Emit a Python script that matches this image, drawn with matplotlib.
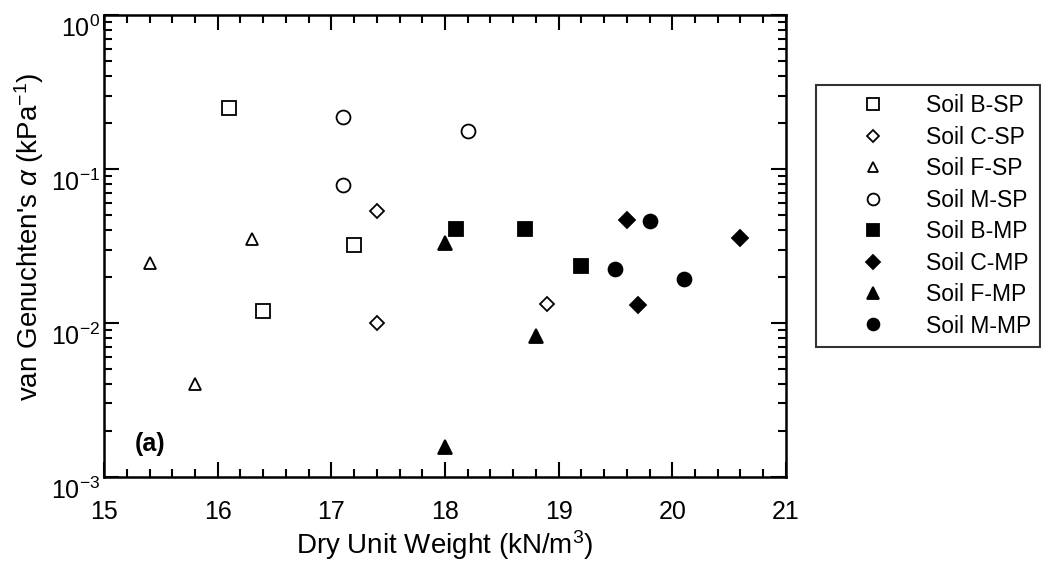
import matplotlib
matplotlib.use("Agg")
import matplotlib.pyplot as plt
import matplotlib.transforms as mtransforms
from matplotlib.ticker import MultipleLocator, LogLocator, NullFormatter

plt.rcParams["font.family"] = ["Liberation Sans", "DejaVu Sans"]
plt.rcParams["mathtext.fontset"] = "custom"
plt.rcParams["mathtext.rm"] = "Liberation Sans"
plt.rcParams["mathtext.it"] = "Liberation Sans:italic"

# dry unit weight (kN/m3) and van Genuchten alpha (1/kPa)
b_sp_x = [16.1, 17.2, 16.4]
b_sp_y = [0.25, 0.032, 0.012]
c_sp_x = [17.4, 17.4, 18.9]
c_sp_y = [0.053, 0.010, 0.0133]
f_sp_x = [15.4, 16.3, 15.8]
f_sp_y = [0.0245, 0.035, 0.0040]
m_sp_x = [17.1, 17.1, 18.2]
m_sp_y = [0.218, 0.079, 0.177]
b_mp_x = [18.1, 18.7, 19.2]
b_mp_y = [0.041, 0.041, 0.0235]
c_mp_x = [19.6, 20.6, 19.7]
c_mp_y = [0.047, 0.0356, 0.0131]
f_mp_x = [18.0, 18.8, 18.0]
f_mp_y = [0.033, 0.0082, 0.00157]
m_mp_x = [19.8, 19.5, 20.1]
m_mp_y = [0.046, 0.0224, 0.0193]

series = [
    ("Soil B-SP", b_sp_x, b_sp_y, "s", 10, False),
    ("Soil C-SP", c_sp_x, c_sp_y, "D", 7, False),
    ("Soil F-SP", f_sp_x, f_sp_y, "^", 9, False),
    ("Soil M-SP", m_sp_x, m_sp_y, "o", 10, False),
    ("Soil B-MP", b_mp_x, b_mp_y, "s", 10, True),
    ("Soil C-MP", c_mp_x, c_mp_y, "D", 8, True),
    ("Soil F-MP", f_mp_x, f_mp_y, "^", 10, True),
    ("Soil M-MP", m_mp_x, m_mp_y, "o", 10, True),
]

fig = plt.figure(figsize=(10.41, 5.61), dpi=100)
ax = fig.add_axes([0.1, 0.15, 0.655, 0.823])

for label, xs, ys, mk, ms, filled in series:
    ax.plot(xs, ys, linestyle="none", marker=mk, markersize=ms,
            markerfacecolor="black" if filled else "white",
            markeredgecolor="black", markeredgewidth=1.3, label=label)

ax.set_yscale("log")
ax.set_xlim(15, 21)
ax.set_ylim(1e-3, 1)
ax.xaxis.set_major_locator(MultipleLocator(1))
ax.xaxis.set_minor_locator(MultipleLocator(0.2))
ax.yaxis.set_major_locator(LogLocator(base=10))
ax.yaxis.set_minor_locator(LogLocator(base=10, subs=range(2, 10)))
ax.yaxis.set_minor_formatter(NullFormatter())

ax.tick_params(which="both", direction="in", top=True, right=True, width=1.5, labelsize=18, colors="black")
ax.tick_params(which="major", length=10.5)
ax.tick_params(which="minor", length=5.5)
ax.tick_params(axis="x", which="major", pad=17)
ax.tick_params(axis="y", which="major", pad=3)
for s in ax.spines.values():
    s.set_linewidth(1.8)

# y tick labels sit a little below their ticks in the original
shift = mtransforms.ScaledTranslation(0, -8 / 72, fig.dpi_scale_trans)
for tick in ax.yaxis.get_major_ticks():
    tick.label1.set_transform(tick.label1.get_transform() + shift)

ax.set_xlabel("Dry Unit Weight (kN/m$^3$)", fontsize=20, labelpad=3)
ax.set_ylabel("van Genuchten's $\\alpha$ (kPa$^{-1}$)", fontsize=20)
ax.yaxis.set_label_coords(-0.085, 0.52)
ax.text(15.27, 0.00148, "(a)", fontsize=18, fontweight="bold")

leg = fig.legend(loc="upper left", bbox_to_anchor=(0.7839, 0.8485), borderaxespad=0,
                 fontsize=16.5, frameon=True, fancybox=False, edgecolor="black",
                 borderpad=0.4, labelspacing=0.37, handletextpad=0.2, handlelength=4.2,
                 markerscale=0.85)
leg.get_frame().set_linewidth(1.5)

fig.savefig("out.png", dpi=100)
